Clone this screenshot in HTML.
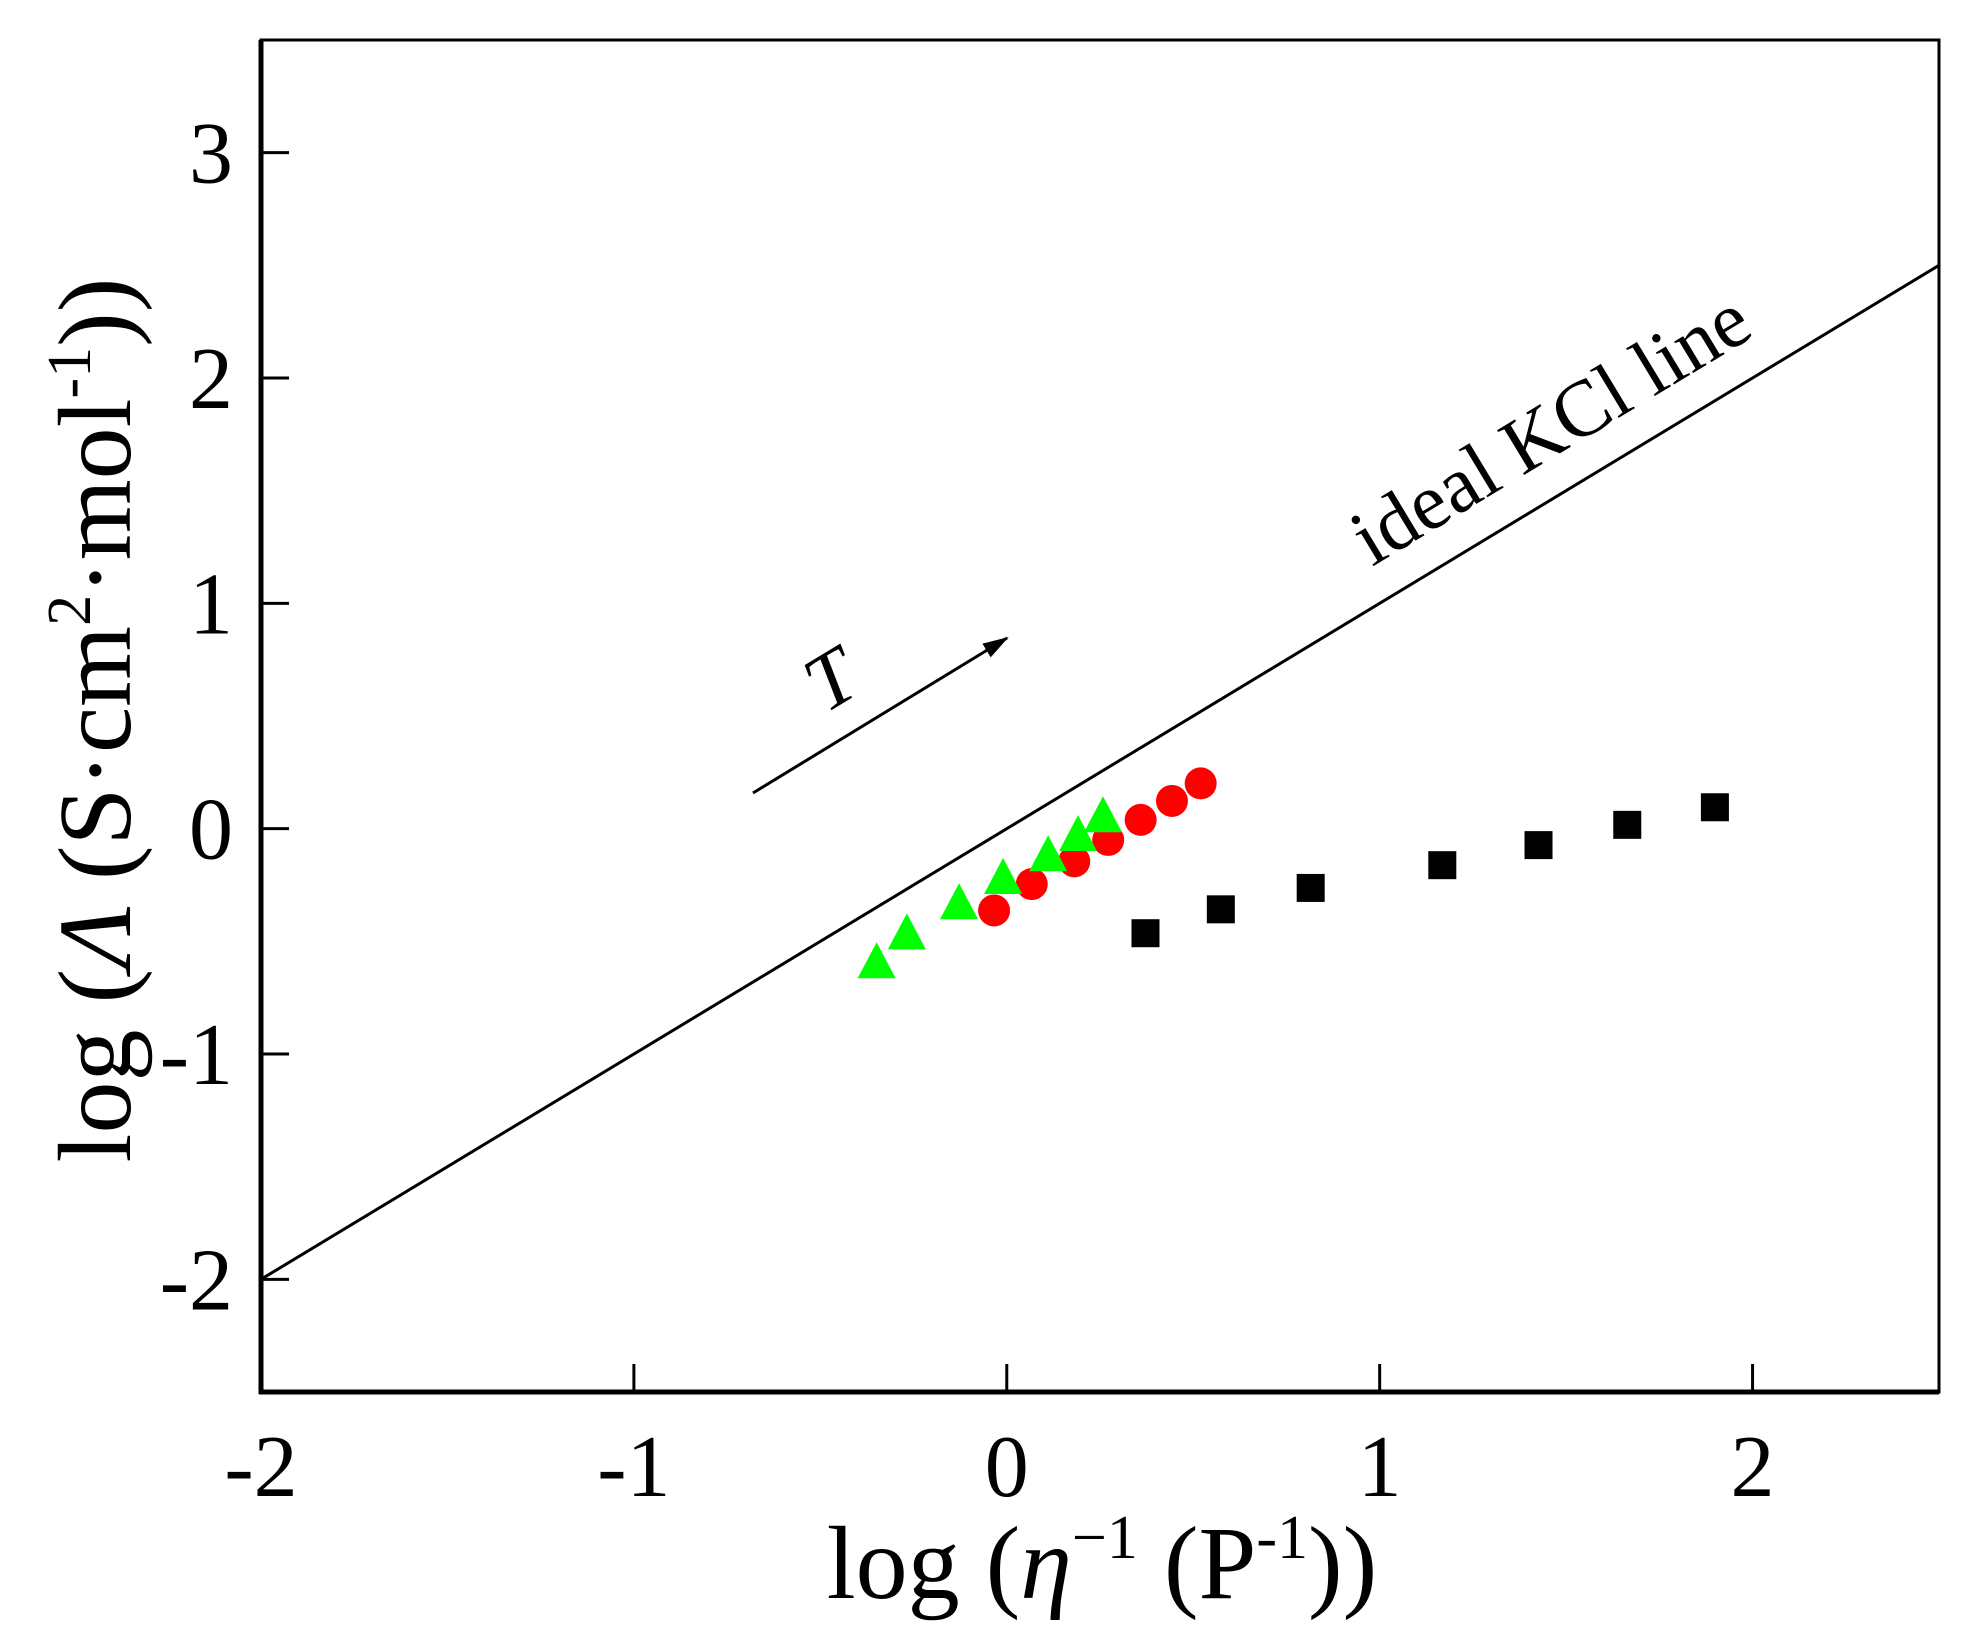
<!DOCTYPE html>
<html><head><meta charset="utf-8"><style>
html,body{margin:0;padding:0;background:#fff;}
svg{display:block;font-family:"Liberation Serif",serif;}
</style></head><body>
<svg id="chart" width="1973" height="1632" viewBox="0 0 1973 1632" xmlns="http://www.w3.org/2000/svg">
<defs><marker id="ah" markerWidth="26" markerHeight="16" refX="24" refY="8" orient="auto" markerUnits="userSpaceOnUse" viewBox="0 0 26 16"><path d="M0,0 L26,8 L0,16 z" fill="#000"/></marker></defs>
<g id="marks"></g>
<g id="axes"></g>
</svg>
<script>
const xTicks = [-2, -1, 0, 1, 2];
const yTicks = [-2, -1, 0, 1, 2, 3];
const xTickLabels = ["-2", "-1", "0", "1", "2"];
const yTickLabels = ["-2", "-1", "0", "1", "2", "3"];
const squareX = [0.372, 0.574, 0.815, 1.168, 1.426, 1.664, 1.899];
const squareY = [-0.464, -0.358, -0.263, -0.162, -0.073, 0.017, 0.095];
const circleX = [-0.034, 0.067, 0.181, 0.272, 0.359, 0.443, 0.520];
const circleY = [-0.363, -0.246, -0.145, -0.050, 0.039, 0.123, 0.201];
const triX = [-0.349, -0.268, -0.128, -0.010, 0.111, 0.191, 0.258];
const triY = [-0.600, -0.472, -0.338, -0.226, -0.125, -0.036, 0.048];
const kclLineX = [-2, 2.5];

const X0 = 261, X1 = 1939, Y0 = 1392, Y1 = 40;
const xMin = -2, xMax = 2.5, yMin = -2.5, yMax = 3.5;
function sx(v){ return X0 + (v - xMin) / (xMax - xMin) * (X1 - X0); }
function sy(v){ return Y0 - (v - yMin) / (yMax - yMin) * (Y0 - Y1); }
const NS = "http://www.w3.org/2000/svg";
const marks = document.getElementById('marks');
const axes = document.getElementById('axes');
function mk(tag, attrs, parent){ const e = document.createElementNS(NS, tag); for (const k in attrs) e.setAttribute(k, attrs[k]); parent.appendChild(e); return e; }

const ln = mk('line', {x1: sx(kclLineX[0]), y1: sy(kclLineX[0]), x2: sx(kclLineX[1]), y2: sy(kclLineX[1]), stroke: '#000', 'stroke-width': 3}, marks);



const ang = Math.atan2(sy(1) - sy(0), sx(1) - sx(0)) * 180 / Math.PI;
const kt = mk('text', {x: 1372, y: 567, 'font-size': 80, transform: 'rotate(' + ang + ' 1372 567)'}, marks);
kt.textContent = 'ideal KCl line';



const ar = mk('line', {x1: 753, y1: 793, x2: 1007, y2: 638, stroke: '#000', 'stroke-width': 3, 'marker-end': 'url(#ah)'}, marks);


const tt = mk('text', {x: 831, y: 706, 'font-size': 80, 'font-style': 'italic', 'text-anchor': 'middle', transform: 'rotate(' + ang + ' 831 680)'}, marks);
tt.textContent = 'T';



for (let i = 0; i < squareX.length; i++){
  const s = 28;
  const r = mk('rect', {x: sx(squareX[i]) - s/2, y: sy(squareY[i]) - s/2, width: s, height: s, fill: '#000'}, marks);
  
  
}
for (let i = 0; i < circleX.length; i++){
  const c = mk('circle', {cx: sx(circleX[i]), cy: sy(circleY[i]), r: 16, fill: '#ff0000'}, marks);
  
  
}
for (let i = 0; i < triX.length; i++){
  const cx = sx(triX[i]), cy = sy(triY[i]), h = 36, w = 38;
  const p = mk('polygon', {points: (cx) + ',' + (cy - h*0.6) + ' ' + (cx - w/2) + ',' + (cy + h*0.4) + ' ' + (cx + w/2) + ',' + (cy + h*0.4), fill: '#00ff00'}, marks);
  
  
}

const fr = mk('rect', {x: X0, y: Y1, width: X1 - X0, height: Y0 - Y1, fill: 'none', stroke: '#000', 'stroke-width': 3}, axes);


const la = mk('line', {x1: X0, y1: Y1, x2: X0, y2: Y0 + 2, stroke: '#000', 'stroke-width': 5}, axes);


const ba = mk('line', {x1: X0 - 2, y1: Y0, x2: X1, y2: Y0, stroke: '#000', 'stroke-width': 5}, axes);



for (let i = 0; i < xTicks.length; i++){
  const x = sx(xTicks[i]);
  const t = mk('line', {x1: x, y1: Y0, x2: x, y2: Y0 - 28, stroke: '#000', 'stroke-width': 3}, axes);
  
  
  const l = mk('text', {x: x, y: Y0 + 104, 'font-size': 88, 'text-anchor': 'middle'}, axes);
  l.textContent = xTickLabels[i];
  
  
}
for (let i = 0; i < yTicks.length; i++){
  const y = sy(yTicks[i]);
  const t = mk('line', {x1: X0, y1: y, x2: X0 + 28, y2: y, stroke: '#000', 'stroke-width': 3}, axes);
  
  
  const l = mk('text', {x: X0 - 28, y: y + 30, 'font-size': 88, 'text-anchor': 'end'}, axes);
  l.textContent = yTickLabels[i];
  
  
}

const xt = mk('text', {x: 1102, y: 1598, 'font-size': 104, 'text-anchor': 'middle'}, axes);
xt.innerHTML = 'log (<tspan font-style="italic">η</tspan><tspan dy="-40" font-size="62">−1</tspan><tspan dy="40"> (P</tspan><tspan dy="-40" font-size="62">-1</tspan><tspan dy="40">))</tspan>';



const yt = mk('text', {x: 0, y: 0, 'font-size': 104, 'text-anchor': 'middle', transform: 'translate(130 720) rotate(-90)'}, axes);
yt.innerHTML = 'log (<tspan font-style="italic">Λ</tspan> (S·cm<tspan dy="-40" font-size="62">2</tspan><tspan dy="40">·mol</tspan><tspan dy="-40" font-size="62">-1</tspan><tspan dy="40">))</tspan>';


</script>
</body></html>
